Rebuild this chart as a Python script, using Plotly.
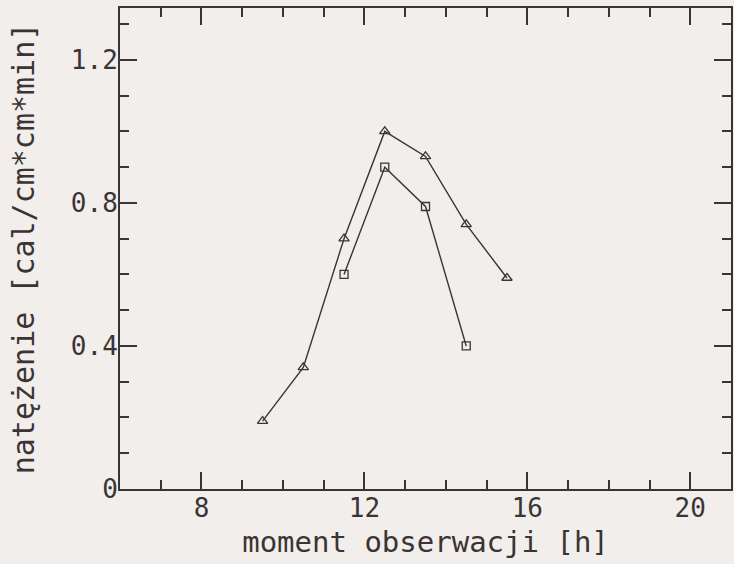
import plotly.graph_objects as go

# data
hours_tri = [9.5, 10.5, 11.5, 12.5, 13.5, 14.5, 15.5]
vals_tri = [0.19, 0.34, 0.70, 1.00, 0.93, 0.74, 0.59]
hours_sq = [11.5, 12.5, 13.5, 14.5]
vals_sq = [0.60, 0.90, 0.79, 0.40]

x_ticks = [8, 12, 16, 20]
y_ticks = [0, 0.4, 0.8, 1.2]
y_ticklabels = ["0", "0.4", "0.8", "1.2"]

ink = "#3b3434"
bg = "#f1eeec"
mono = "DejaVu Sans Mono"

fig = go.Figure()
fig.add_trace(go.Scatter(
    x=hours_tri, y=vals_tri, mode="lines+markers",
    line=dict(color=ink, width=1.4),
    marker=dict(symbol="triangle-up-open", size=9, color=ink, line=dict(width=1.3, color=ink)),
    showlegend=False, cliponaxis=False))
fig.add_trace(go.Scatter(
    x=hours_sq, y=vals_sq, mode="lines+markers",
    line=dict(color=ink, width=1.4),
    marker=dict(symbol="square-open", size=8, color=ink, line=dict(width=1.3, color=ink)),
    showlegend=False, cliponaxis=False))

axis_common = dict(
    showgrid=False, zeroline=False,
    showline=True, linecolor=ink, linewidth=2, mirror="ticks",
    ticks="inside", ticklen=17, tickwidth=2, tickcolor=ink,
    tickfont=dict(family=mono, size=26, color=ink),
    ticklabelstandoff=-5,
)

fig.update_xaxes(
    range=[6, 21], tickvals=x_ticks,
    minor=dict(dtick=1, tick0=0, ticks="inside", ticklen=9, tickwidth=2, tickcolor=ink),
    title=dict(text="moment obserwacji [h]", font=dict(family=mono, size=29, color=ink), standoff=9),
    **axis_common)
fig.update_yaxes(
    range=[0, 1.345], tickvals=y_ticks, ticktext=y_ticklabels,
    minor=dict(dtick=0.1, tick0=0, ticks="inside", ticklen=9, tickwidth=2, tickcolor=ink),
    title=dict(text="natężenie [cal/cm*cm*min]", font=dict(family=mono, size=30, color=ink), standoff=27),
    **axis_common)

fig.update_layout(
    width=734, height=564,
    margin=dict(l=120, r=1, t=8, b=75),
    paper_bgcolor=bg, plot_bgcolor=bg,
)

fig.write_html("out.html")
